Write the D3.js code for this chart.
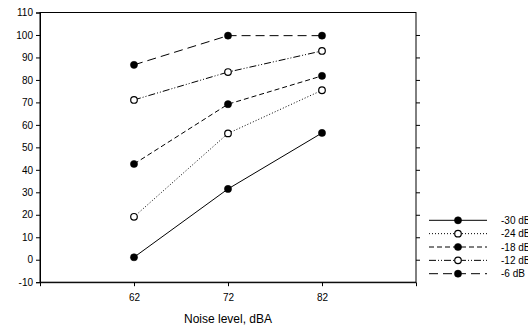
<!DOCTYPE html>
<html>
<head>
<meta charset="utf-8">
<style>
body { margin: 0; background: #fff; }
text { font-family: "Liberation Sans", Arial, sans-serif; fill: #000; }
</style>
</head>
<body>
<div id="chart"></div>
<script src="https://cdn.jsdelivr.net/npm/d3@7"></script>
<script>
// data
var noise = [62, 72, 82];
var seriesNames = ['-30 dB', '-24 dB', '-18 dB', '-12 dB', '-6 dB'];
var s30 = [1.1, 31.5, 56.4];
var s24 = [19.1, 56.2, 75.4];
var s18 = [42.6, 69.2, 81.8];
var s12 = [71.1, 83.5, 92.9];
var s6 = [86.7, 99.7, 99.7];
var yTicks = [-10, 0, 10, 20, 30, 40, 50, 60, 70, 80, 90, 100, 110];

var series = [
    { name: seriesNames[0], vals: s30, open: false, dash: null },
    { name: seriesNames[1], vals: s24, open: true, dash: '1,2' },
    { name: seriesNames[2], vals: s18, open: false, dash: '5,3' },
    { name: seriesNames[3], vals: s12, open: true, dash: '7,2,1,2,1,2' },
    { name: seriesNames[4], vals: s6, open: false, dash: '9,5' }
];

var plotL = 40, plotT = 12.5, plotR = 416, plotB = 282.2;

var svg = d3.select('#chart').append('svg')
    .attr('width', 528)
    .attr('height', 329);

var x = d3.scaleLinear().domain([52, 92]).range([plotL, plotR]);
var y = d3.scaleLinear().domain([-10, 110]).range([plotB, plotT]);

svg.append('g')
    .attr('transform', 'translate(' + plotL + ',0)')
    .call(d3.axisLeft(y).tickValues(yTicks).tickSize(4).tickPadding(3).tickFormat(d => String(d)))
    .call(g => g.selectAll('text').style('font-size', '10px'));

// inward ticks on the right side
svg.append('g')
    .attr('transform', 'translate(' + plotR + ',0)')
    .call(d3.axisLeft(y).tickValues(yTicks.slice(1, -1)).tickSize(-4).tickFormat(''))
    .call(g => g.select('.domain').remove());

svg.append('g')
    .attr('transform', 'translate(0,' + plotB + ')')
    .call(d3.axisBottom(x).tickValues(noise).tickSize(4).tickPadding(8))
    .call(g => g.selectAll('text').style('font-size', '10px'));

svg.append('rect')
    .attr('x', plotL).attr('y', plotT)
    .attr('width', plotR - plotL).attr('height', plotB - plotT)
    .attr('fill', 'none').attr('stroke', '#000').attr('stroke-width', 1);

svg.selectAll('.domain').attr('stroke', '#000');

svg.append('text')
    .attr('x', x(72))
    .attr('y', 323)
    .attr('text-anchor', 'middle')
    .style('font-size', '12px')
    .text('Noise level, dBA');

var line = d3.line()
    .x((d, i) => x(noise[i]))
    .y(d => y(d));

series.forEach(s => {
    svg.append('path')
        .attr('d', line(s.vals))
        .attr('fill', 'none')
        .attr('stroke', '#000')
        .attr('stroke-width', 1)
        .attr('stroke-dasharray', s.dash);
    svg.selectAll(null)
        .data(s.vals)
        .enter().append('circle')
        .attr('cx', (d, i) => x(noise[i]))
        .attr('cy', d => y(d))
        .attr('r', s.open ? 3.3 : 3.6)
        .attr('fill', s.open ? '#fff' : '#000')
        .attr('stroke', '#000')
        .attr('stroke-width', s.open ? 1.2 : 0.5);
});

// legend
var lx0 = 429, lx1 = 487, lmid = 458, ly0 = 220.3, lstep = 13.35;
series.forEach((s, i) => {
    var ly = ly0 + i * lstep;
    svg.append('line')
        .attr('x1', lx0).attr('x2', lx1)
        .attr('y1', ly).attr('y2', ly)
        .attr('stroke', '#000')
        .attr('stroke-width', 1)
        .attr('stroke-dasharray', s.dash);
    svg.append('circle')
        .attr('cx', lmid).attr('cy', ly)
        .attr('r', s.open ? 3.3 : 3.6)
        .attr('fill', s.open ? '#fff' : '#000')
        .attr('stroke', '#000')
        .attr('stroke-width', s.open ? 1.2 : 0.5);
    svg.append('text')
        .attr('x', 501)
        .attr('y', ly + 3.6)
        .style('font-size', '10px')
        .text(s.name);
});
</script>
</body>
</html>
